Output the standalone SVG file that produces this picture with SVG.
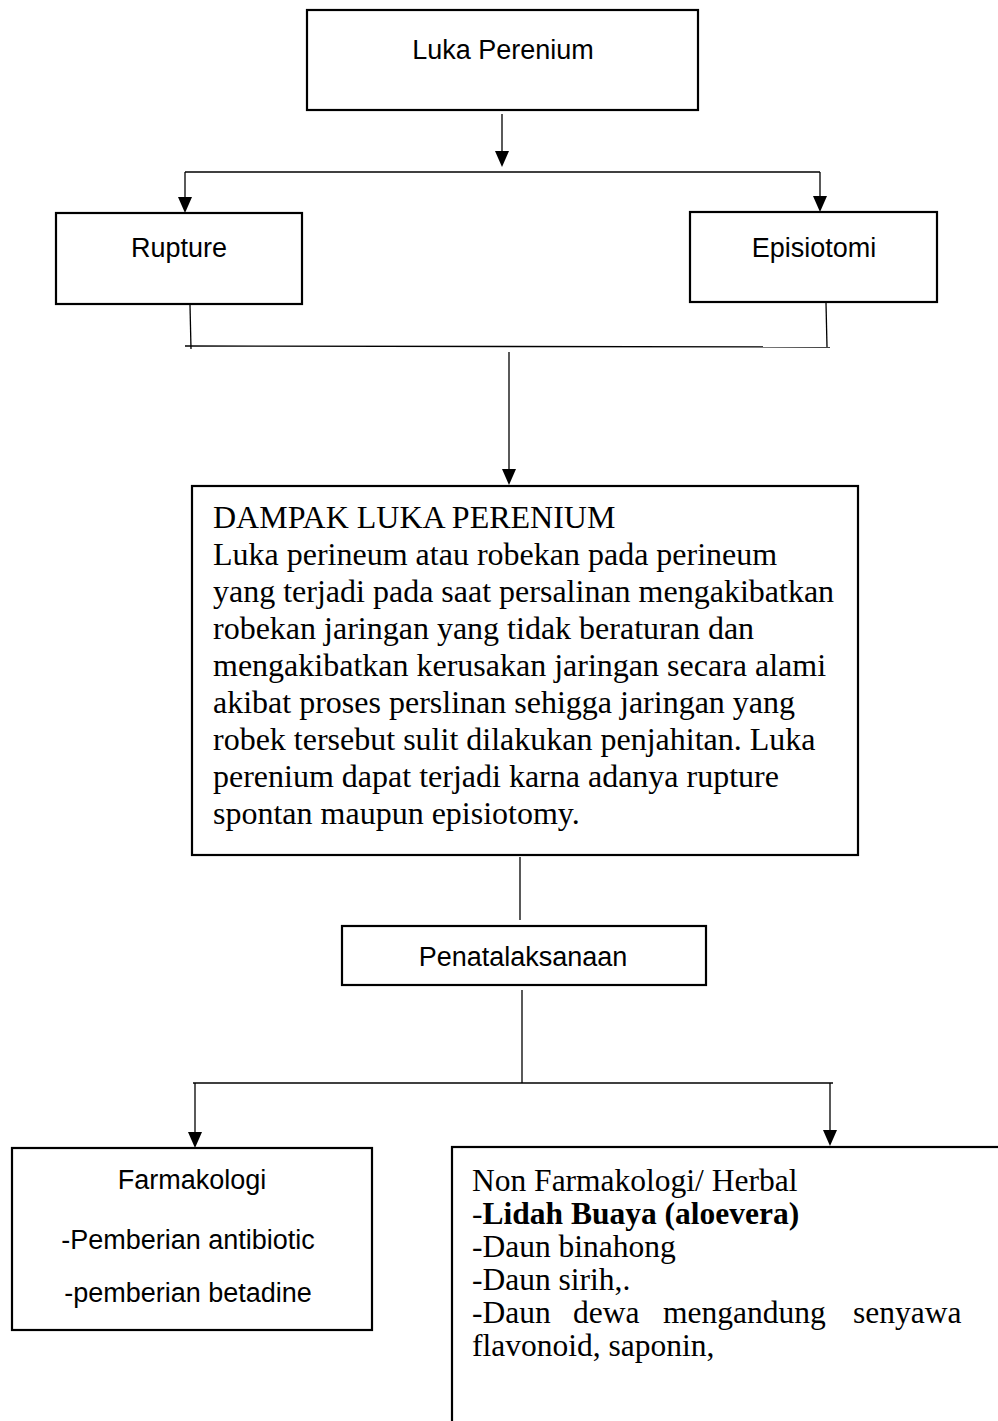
<svg xmlns="http://www.w3.org/2000/svg" width="998" height="1421" viewBox="0 0 998 1421">
<style>
.box{fill:#fff;stroke:#000;stroke-width:2.2}
.ln{fill:none;stroke:#000;stroke-width:1.3}
.sans{font-family:"Liberation Sans",Arial,sans-serif;font-size:27px;fill:#000}
.serif{font-family:"Liberation Serif","Times New Roman",serif;font-size:32px;fill:#000}
.serif2{font-family:"Liberation Serif","Times New Roman",serif;font-size:31.5px;fill:#000}
</style>
<rect width="998" height="1421" fill="#fff"/>
<g id="connectors">
<line class="ln" x1="502" y1="114" x2="502" y2="151"/>
<path d="M495,151 L509,151 L502,167 Z" fill="#000"/>
<line class="ln" x1="185" y1="172" x2="820" y2="172"/>
<line class="ln" x1="185" y1="172" x2="185" y2="197"/>
<path d="M178,197 L192,197 L185,213 Z" fill="#000"/>
<line class="ln" x1="820" y1="172" x2="820" y2="196"/>
<path d="M813,196 L827,196 L820,212 Z" fill="#000"/>
<line class="ln" x1="190" y1="305" x2="191" y2="349"/>
<line class="ln" x1="826" y1="303" x2="827" y2="347"/>
<line class="ln" x1="185" y1="346" x2="830" y2="347"/>
<line class="ln" x1="509" y1="352" x2="509" y2="469"/>
<path d="M502,469 L516,469 L509,485 Z" fill="#000"/>
<line class="ln" x1="520" y1="857" x2="520" y2="920"/>
<line class="ln" x1="522" y1="990" x2="522" y2="1083"/>
<line class="ln" x1="193" y1="1083" x2="833" y2="1083"/>
<line class="ln" x1="195" y1="1083" x2="195" y2="1132"/>
<path d="M188,1132 L202,1132 L195,1148 Z" fill="#000"/>
<line class="ln" x1="830" y1="1083" x2="830" y2="1130"/>
<path d="M823,1130 L837,1130 L830,1146 Z" fill="#000"/>
</g>
<g id="luka-perenium">
<rect class="box" x="307" y="10" width="391" height="100"/>
<text class="sans" x="503" y="59" text-anchor="middle" font-size="26">Luka Perenium</text>
</g>
<g id="rupture">
<rect class="box" x="56" y="213" width="246" height="91"/>
<text class="sans" x="179" y="257" text-anchor="middle">Rupture</text>
</g>
<g id="episiotomi">
<rect class="box" x="690" y="212" width="247" height="90"/>
<text class="sans" x="814" y="257" text-anchor="middle">Episiotomi</text>
</g>
<g id="dampak">
<rect class="box" x="192" y="486" width="666" height="369"/>
<text class="serif">
<tspan x="213" y="528">DAMPAK LUKA PERENIUM</tspan>
<tspan x="213" y="565">Luka perineum atau robekan pada perineum</tspan>
<tspan x="213" y="602">yang terjadi pada saat persalinan mengakibatkan</tspan>
<tspan x="213" y="639">robekan jaringan yang tidak beraturan dan</tspan>
<tspan x="213" y="676">mengakibatkan kerusakan jaringan secara alami</tspan>
<tspan x="213" y="713">akibat proses perslinan sehigga jaringan yang</tspan>
<tspan x="213" y="750">robek tersebut sulit dilakukan penjahitan. Luka</tspan>
<tspan x="213" y="787">perenium dapat terjadi karna adanya rupture</tspan>
<tspan x="213" y="824">spontan maupun episiotomy.</tspan>
</text>
</g>
<g id="penatalaksanaan">
<rect class="box" x="342" y="926" width="364" height="59"/>
<text class="sans" x="523" y="966" text-anchor="middle">Penatalaksanaan</text>
</g>
<g id="farmakologi">
<rect class="box" x="12" y="1148" width="360" height="182"/>
<text class="sans" x="192" y="1189" text-anchor="middle">Farmakologi</text>
<text class="sans" x="188" y="1249" text-anchor="middle" font-size="28">-Pemberian antibiotic</text>
<text class="sans" x="188" y="1302" text-anchor="middle" font-size="28">-pemberian betadine</text>
</g>
<g id="non-farmakologi">
<rect class="box" x="452" y="1147" width="560" height="290"/>
<text class="serif2">
<tspan x="472" y="1191">Non Farmakologi/ Herbal</tspan>
<tspan x="472" y="1224">-<tspan font-weight="bold">Lidah Buaya (aloevera)</tspan></tspan>
<tspan x="472" y="1257">-Daun binahong</tspan>
<tspan x="472" y="1290">-Daun sirih,.</tspan>
<tspan x="472" y="1323">-Daun</tspan><tspan x="573" y="1323">dewa</tspan><tspan x="663" y="1323">mengandung</tspan><tspan x="853" y="1323">senyawa</tspan>
<tspan x="472" y="1356">flavonoid, saponin,</tspan>
</text>
</g>
</svg>
